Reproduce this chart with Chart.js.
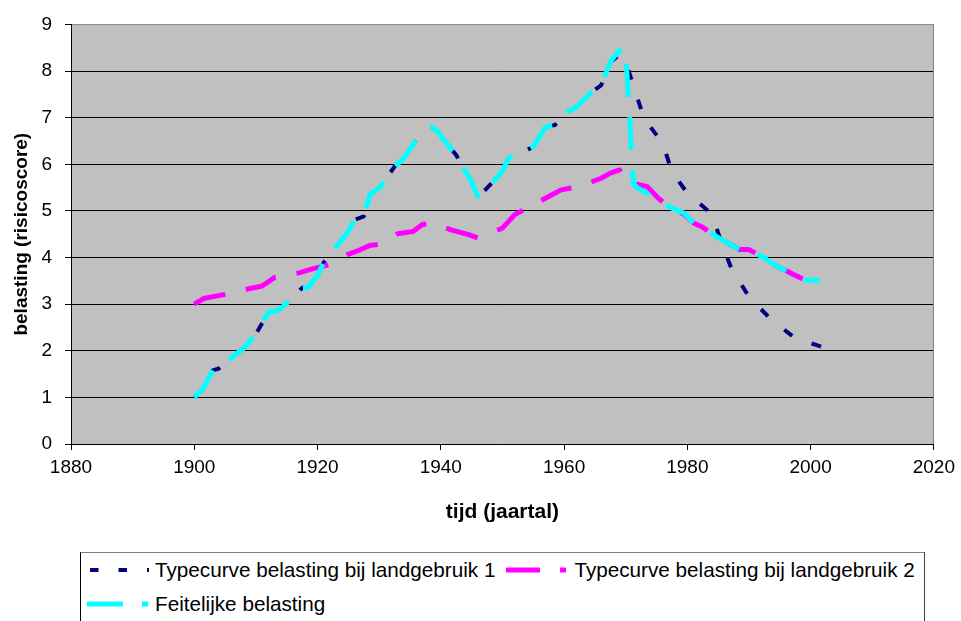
<!DOCTYPE html>
<html lang="nl">
<head>
  <meta charset="UTF-8">
  <title>Belasting per jaar</title>
  <script src="https://cdn.jsdelivr.net/npm/chart.js"></script>
  <style>
    body { margin: 0; background: #fff; font-family: "Liberation Sans", Arial, sans-serif; }
    #wrap { position: absolute; left: 0; top: 0; width: 961px; height: 545px; }
    #legend {
      position: absolute; left: 80px; top: 552px; width: 845px; height: 80px;
      border: 1px solid #000; border-right-color: #404040; border-top-color: #808080;
      box-sizing: border-box; padding-left: 6px;
      font-size: 20.7px; color: #000;
    }
    .row { display: flex; height: 34px; white-space: nowrap; }
    .item { display: flex; align-items: center; height: 34px; margin-right: 11px; }
    .item svg { margin-right: 6px; }
  </style>
</head>
<body>
  <div id="wrap"><canvas id="chart" width="961" height="545"></canvas></div>
  <div id="legend"><div class="row" id="row1"></div><div class="row" id="row2"></div></div>
  <script>
    // series 1: typecurve landgebruik 1
    const jaren1 = [1900, 1901.5, 1903, 1904, 1906.5, 1908, 1910, 1912, 1913.5, 1914.5, 1916, 1917.5, 1918.5, 1920, 1921, 1922, 1924, 1925, 1926, 1927.5, 1928.5, 1930, 1931, 1932.5, 1934, 1936, 1937, 1938.5, 1939.5, 1940.5, 1942.5, 1943.5, 1945, 1946, 1947, 1948.5, 1950, 1951, 1953, 1954.5, 1955, 1957, 1958.5, 1960.5, 1962, 1964.5, 1966, 1967.5, 1969, 1970, 1971.5, 1973, 1976, 1977.5, 1980, 1984, 1985.6, 1987.2, 1990, 1993.5, 1997.5, 2001, 2003];
    const belasting1 = [1.0, 1.2, 1.58, 1.62, 1.9, 2.05, 2.36, 2.82, 2.86, 2.96, 3.14, 3.35, 3.36, 3.62, 3.89, 4.07, 4.39, 4.56, 4.81, 4.88, 5.35, 5.49, 5.67, 5.95, 6.13, 6.52, 6.6, 6.8, 6.7, 6.52, 6.2, 5.95, 5.63, 5.31, 5.42, 5.63, 5.85, 6.13, 6.25, 6.34, 6.38, 6.8, 6.84, 7.12, 7.23, 7.55, 7.69, 8.19, 8.35, 8.2, 7.58, 6.98, 6.45, 5.84, 5.38, 4.93, 4.29, 3.75, 3.16, 2.68, 2.27, 2.12, 2.03];

    // series 2: typecurve landgebruik 2
    const jaren2 = [1900, 1901.5, 1905, 1908.5, 1911, 1913, 1917, 1919, 1922, 1925, 1927, 1928.5, 1930, 1933, 1935.5, 1937, 1939, 1941.5, 1944.5, 1946, 1946.8, 1950, 1952, 1954, 1957.5, 1959.5, 1962.5, 1966, 1967.5, 1969, 1970.2, 1973.5, 1975.3, 1977.5, 1979.5, 1981, 1982.5, 1984, 1985.5, 1987, 1988.5, 1990, 1991, 1992.5, 1994, 1996, 1997, 1999, 2000.5, 2002];
    const belasting2 = [3.0, 3.12, 3.21, 3.32, 3.39, 3.57, 3.67, 3.75, 3.85, 4.07, 4.17, 4.26, 4.28, 4.51, 4.56, 4.71, 4.74, 4.6, 4.49, 4.42, 4.46, 4.63, 4.92, 5.06, 5.31, 5.45, 5.52, 5.7, 5.81, 5.88, 5.63, 5.52, 5.27, 5.04, 4.93, 4.74, 4.65, 4.51, 4.39, 4.28, 4.17, 4.17, 4.1, 3.99, 3.85, 3.72, 3.65, 3.52, 3.51, 3.5];

    // series 3: feitelijke belasting
    const jaren3 = [1900, 1901.5, 1903, 1904, 1906.5, 1908, 1910, 1912, 1913.5, 1914.5, 1916, 1917.5, 1918.5, 1920, 1921, 1922, 1924, 1925, 1926, 1927.5, 1928.5, 1930, 1931, 1932.5, 1934, 1936, 1937, 1938.5, 1939.5, 1940.5, 1942.5, 1943.5, 1945, 1946, 1947, 1948.5, 1950, 1951, 1953, 1954.5, 1955, 1957, 1958.5, 1960.5, 1962, 1964.5, 1966, 1967.5, 1968, 1969.5, 1970, 1970.5, 1971, 1971.3, 1972, 1975, 1977.5, 1979.5, 1981, 1982.5, 1984, 1985.5, 1987, 1988.5, 1990, 1991, 1992.5, 1994, 1996, 1997, 1999, 2000.5, 2001.5];
    const belasting3 = [1.0, 1.2, 1.58, 1.62, 1.9, 2.05, 2.36, 2.82, 2.86, 2.96, 3.14, 3.35, 3.36, 3.62, 3.89, 4.07, 4.39, 4.56, 4.81, 4.88, 5.35, 5.49, 5.67, 5.95, 6.13, 6.52, 6.6, 6.8, 6.7, 6.52, 6.2, 5.95, 5.63, 5.31, 5.42, 5.63, 5.85, 6.13, 6.25, 6.34, 6.38, 6.8, 6.84, 7.12, 7.23, 7.55, 7.69, 8.19, 8.29, 8.51, 8.33, 7.33, 6.06, 5.56, 5.49, 5.25, 5.06, 4.95, 4.74, 4.65, 4.51, 4.39, 4.28, 4.17, 4.17, 4.1, 3.99, 3.85, 3.72, 3.65, 3.52, 3.51, 3.5];

    const labels = ['Typecurve belasting bij landgebruik 1', 'Typecurve belasting bij landgebruik 2', 'Feitelijke belasting'];
    const xTicks = [1880, 1900, 1920, 1940, 1960, 1980, 2000, 2020];

    const FONT = '"Liberation Sans", Arial, sans-serif';

    function punten(xs, ys) {
      return xs.map((x, i) => ({ x: x, y: ys[i] }));
    }

    const series = [
      { label: labels[0], data: punten(jaren1, belasting1), color: '#000080', width: 4, dash: [10, 21], order: 3 },
      { label: labels[1], data: punten(jaren2, belasting2), color: '#ff00ff', width: 5, dash: [33, 21], order: 2 },
      { label: labels[2], data: punten(jaren3, belasting3), color: '#00ffff', width: 5, dash: [33, 20], order: 1 }
    ];

    // grey plot background and the right-hand frame line
    const plotArea = {
      id: 'plotArea',
      beforeDraw(chart) {
        const { ctx, chartArea: a } = chart;
        ctx.save();
        ctx.fillStyle = '#c0c0c0';
        ctx.fillRect(a.left, a.top, a.right - a.left, a.bottom - a.top);
        ctx.restore();
      },
      beforeDatasetsDraw(chart) {
        const { ctx, chartArea: a } = chart;
        ctx.save();
        ctx.strokeStyle = '#808080';
        ctx.lineWidth = 1;
        ctx.beginPath();
        ctx.moveTo(Math.round(a.right) - 0.5, a.top);
        ctx.lineTo(Math.round(a.right) - 0.5, a.bottom);
        ctx.stroke();
        ctx.restore();
      }
    };

    new Chart(document.getElementById('chart'), {
      type: 'line',
      data: {
        datasets: series.map(s => ({
          label: s.label,
          data: s.data,
          borderColor: s.color,
          backgroundColor: s.color,
          borderWidth: s.width,
          borderDash: s.dash,
          borderCapStyle: 'butt',
          borderJoinStyle: 'round',
          pointRadius: 0,
          tension: 0,
          fill: false,
          order: s.order
        }))
      },
      plugins: [plotArea],
      options: {
        responsive: false,
        animation: false,
        devicePixelRatio: 1,
        layout: { padding: { top: 22, right: 24, left: 0, bottom: 0 } },
        plugins: { legend: { display: false }, tooltip: { enabled: false } },
        scales: {
          x: {
            type: 'linear',
            min: xTicks[0],
            max: xTicks[xTicks.length - 1],
            afterBuildTicks: scale => { scale.ticks = xTicks.map(v => ({ value: v })); },
            afterFit: scale => { scale.height = 101; },
            ticks: { color: '#000', font: { family: FONT, size: 19 }, padding: 6, callback: v => String(v) },
            grid: { drawOnChartArea: false, tickLength: 6, tickColor: '#000', color: '#000' },
            border: { color: '#000', width: 1 },
            title: { display: true, text: 'tijd (jaartal)', color: '#000', font: { family: FONT, size: 21, weight: 'bold' }, padding: { top: 0, bottom: 20 } }
          },
          y: {
            min: 0,
            max: 9,
            afterFit: scale => { scale.width = 71; },
            ticks: { stepSize: 1, color: '#000', font: { family: FONT, size: 19 }, padding: 13 },
            grid: {
              color: c => (c.tick && c.tick.value === 9 ? '#8c8c8c' : '#000'),
              tickLength: 6,
              tickColor: '#000'
            },
            border: { color: '#000', width: 1 },
            title: { display: true, text: 'belasting (risicoscore)', color: '#000', font: { family: FONT, size: 19, weight: 'bold' }, padding: { top: 10 } }
          }
        }
      }
    });

    // legend below the chart, with dashed line samples: two entries on the first row, one on the second
    const samples = [
      { x1: 3, x2: 62, color: '#000080', w: 4, dash: '8.5 20' },
      { x1: 0, x2: 60, color: '#ff00ff', w: 5, dash: '34 20' },
      { x1: 0, x2: 61, color: '#00ffff', w: 5, dash: '36 19' }
    ];
    const rows = ['row1', 'row1', 'row2'];
    series.forEach((s, i) => {
      const m = samples[i];
      const item = document.createElement('div');
      item.className = 'item';
      item.innerHTML =
        '<svg width="62" height="10"><line x1="' + m.x1 + '" y1="5" x2="' + m.x2 + '" y2="5" stroke="' + m.color +
        '" stroke-width="' + m.w + '" stroke-dasharray="' + m.dash + '"/></svg><span>' + s.label + '</span>';
      document.getElementById(rows[i]).appendChild(item);
    });
  </script>
</body>
</html>
